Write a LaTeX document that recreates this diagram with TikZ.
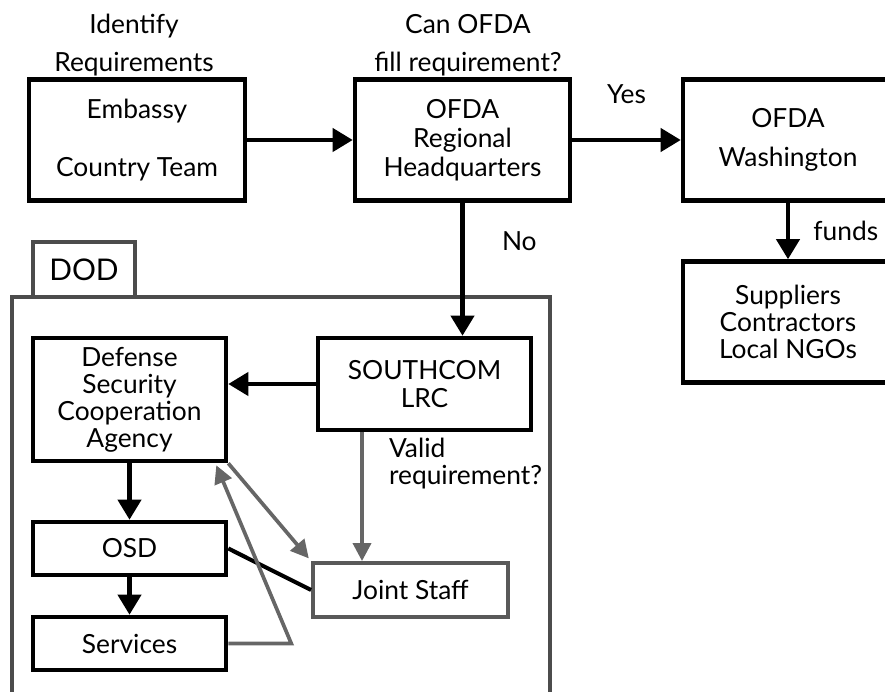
\documentclass[tikz,border=0pt]{standalone}
\usepackage{fontspec}
\setmainfont{Lato}
\usetikzlibrary{arrows.meta}

\begin{document}
\begin{tikzpicture}
		[x=0.02cm, y=-0.02cm,
			block/.style ={rectangle, draw, line width=2.6pt, align=center, inner sep=0pt, font=\fontsize{15}{15.4}\selectfont},
 gblock/.style ={rectangle, draw=black!65, line width=2.2pt, align=center, inner sep=0pt, font=\fontsize{15}{15.4}\selectfont},
 tab/.style ={rectangle, draw=black!70, line width=2pt, inner sep=0pt, minimum width=102*0.02cm, minimum height=55*0.02cm, font=\fontsize{17}{18}\selectfont},
 line/.style ={draw, line width=2.3pt, -{Triangle[length=0.4cm, width=0.46cm]}},
 gline/.style ={draw=black!60, line width=2.1pt, -{Triangle[length=0.36cm, width=0.36cm]}},
 link/.style ={draw, line width=2.3pt},
 note/.style ={align=center, inner sep=0pt, font=\fontsize{15}{21.5}\selectfont}]
		\clip (0,0) rectangle (885,692);
		% top row
		\path 	(137, 140) node[block, minimum width=216*0.02cm, minimum height=121*0.02cm] (E) {Embassy\\[18pt]Country Team}
			(462.5, 140) node[block, minimum width=215*0.02cm, minimum height=121*0.02cm] (R) {OFDA\\[1pt]Regional\\[1pt]Headquarters}
			(788, 140) node[block, minimum width=210*0.02cm, minimum height=121*0.02cm] (W) {OFDA\\[7pt]Washington}
			(788, 322) node[block, minimum width=210*0.02cm, minimum height=121*0.02cm] (N) {Suppliers\\Contractors\\Local NGOs};
		\path 	(134, 45) node[note] (Q1) {Identify\\Requirements}
			(468, 45) node[note] (Q2) {Can OFDA\\fill requirement?};
		% DOD frame
		\draw[draw=black!70, line width=2pt] (12,297) rectangle (550,720);
		\node[tab] (DOD) at (84, 269.5) {DOD};
		\path 	(129.5, 399.5) node[block, minimum width=193*0.02cm, minimum height=123*0.02cm] (D) {Defense\\Security\\Cooperation\\Agency}
			(424.5, 384) node[block, minimum width=213*0.02cm, minimum height=92*0.02cm] (L) {SOUTHCOM\\[0.5pt]LRC}
			(129.5, 548.5) node[block, minimum width=193*0.02cm, minimum height=53*0.02cm] (O) {OSD}
			(129.5, 643.5) node[block, minimum width=193*0.02cm, minimum height=53*0.02cm] (V) {Services}
			(410.5, 590) node[gblock, minimum width=195*0.02cm, minimum height=54*0.02cm] (J) {Joint Staff};
		% connectors
		\draw[line] (E) -- (R);
		\draw[line] (R) -- node[above=16pt, font=\fontsize{15}{15.4}\selectfont] (yes) {Yes} (W);
		\draw[line] (R.south) -- node[pos=0.29, right=18pt, font=\fontsize{15}{15.4}\selectfont] (no) {No} (R.south |- L.north);
		\draw[line] (W) -- node[right=10pt, font=\fontsize{15}{15.4}\selectfont] (funds) {funds} (N);
		\draw[line] (L.west) -- (L.west -| D.east);
		\draw[line] (D) -- (O);
		\draw[line] (O) -- (V);
		\draw[link] (O.east) -- (J.west);
		\draw[gline] ([xshift=-1.25cm]L.south) -- node[pos=0.24, right=11pt, align=left, font=\fontsize{15}{15.4}\selectfont] (valid) {Valid\\requirement?} ([xshift=-1.25cm]L.south |- J.north);
		\draw[gline, shorten >=2pt] (D.south east) -- (J.north west);
		\draw[gline] (V.east) -- ++(63,0) -- ([xshift=-0.24cm, yshift=-0.04cm]D.south east);
	\end{tikzpicture}
\end{document}
